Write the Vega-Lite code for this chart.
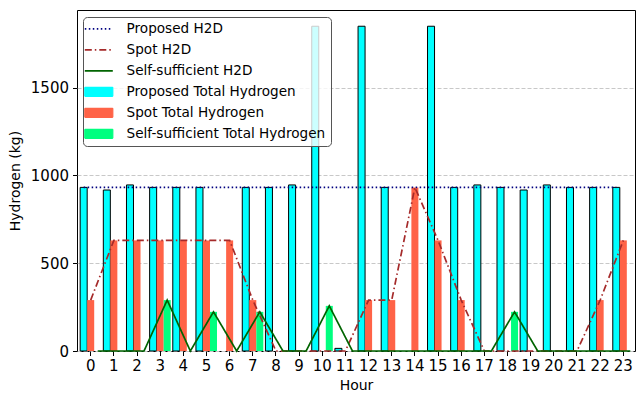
{
  "$schema": "https://vega.github.io/schema/vega-lite/v6.json",
  "width": 558,
  "height": 341,
  "autosize": {"type": "none"},
  "padding": {"left": 77, "top": 10, "right": 1, "bottom": 43},
  "config": {
    "font": "DejaVu Sans",
    "view": {"stroke": "black", "strokeWidth": 1},
    "axis": {"labelFontSize": 15, "titleFontSize": 14, "labelColor": "black", "titleColor": "black", "tickColor": "black", "titleFontWeight": "normal", "domain": false, "tickSize": 4.5}
  },
  "datasets": {
    "labels": [
      {"series": "Proposed", "bar": "Proposed Total Hydrogen", "line": "Proposed H2D"},
      {"series": "Spot", "bar": "Spot Total Hydrogen", "line": "Spot H2D"},
      {"series": "Self-sufficient", "bar": "Self-sufficient Total Hydrogen", "line": "Self-sufficient H2D"}
    ]
  },
  "data": {"values": [
    {"hour": 0, "series": "Proposed", "total": 932, "h2d": 932},
    {"hour": 1, "series": "Proposed", "total": 917, "h2d": 932},
    {"hour": 2, "series": "Proposed", "total": 946, "h2d": 932},
    {"hour": 3, "series": "Proposed", "total": 932, "h2d": 932},
    {"hour": 4, "series": "Proposed", "total": 932, "h2d": 932},
    {"hour": 5, "series": "Proposed", "total": 932, "h2d": 932},
    {"hour": 6, "series": "Proposed", "total": null, "h2d": 932},
    {"hour": 7, "series": "Proposed", "total": 932, "h2d": 932},
    {"hour": 8, "series": "Proposed", "total": 932, "h2d": 932},
    {"hour": 9, "series": "Proposed", "total": 946, "h2d": 932},
    {"hour": 10, "series": "Proposed", "total": 1850, "h2d": 932},
    {"hour": 11, "series": "Proposed", "total": 15, "h2d": 932},
    {"hour": 12, "series": "Proposed", "total": 1850, "h2d": 932},
    {"hour": 13, "series": "Proposed", "total": 932, "h2d": 932},
    {"hour": 14, "series": "Proposed", "total": null, "h2d": 932},
    {"hour": 15, "series": "Proposed", "total": 1850, "h2d": 932},
    {"hour": 16, "series": "Proposed", "total": 932, "h2d": 932},
    {"hour": 17, "series": "Proposed", "total": 946, "h2d": 932},
    {"hour": 18, "series": "Proposed", "total": 932, "h2d": 932},
    {"hour": 19, "series": "Proposed", "total": 917, "h2d": 932},
    {"hour": 20, "series": "Proposed", "total": 946, "h2d": 932},
    {"hour": 21, "series": "Proposed", "total": 932, "h2d": 932},
    {"hour": 22, "series": "Proposed", "total": 932, "h2d": 932},
    {"hour": 23, "series": "Proposed", "total": 932, "h2d": 932},
    {"hour": 0, "series": "Spot", "total": 290, "h2d": 290},
    {"hour": 1, "series": "Spot", "total": 630, "h2d": 630},
    {"hour": 2, "series": "Spot", "total": 630, "h2d": 630},
    {"hour": 3, "series": "Spot", "total": 630, "h2d": 630},
    {"hour": 4, "series": "Spot", "total": 630, "h2d": 630},
    {"hour": 5, "series": "Spot", "total": 630, "h2d": 630},
    {"hour": 6, "series": "Spot", "total": 630, "h2d": 630},
    {"hour": 7, "series": "Spot", "total": 290, "h2d": 290},
    {"hour": 8, "series": "Spot", "total": 0, "h2d": 0},
    {"hour": 9, "series": "Spot", "total": 0, "h2d": 0},
    {"hour": 10, "series": "Spot", "total": 0, "h2d": 0},
    {"hour": 11, "series": "Spot", "total": 0, "h2d": 0},
    {"hour": 12, "series": "Spot", "total": 290, "h2d": 290},
    {"hour": 13, "series": "Spot", "total": 290, "h2d": 290},
    {"hour": 14, "series": "Spot", "total": 932, "h2d": 932},
    {"hour": 15, "series": "Spot", "total": 630, "h2d": 630},
    {"hour": 16, "series": "Spot", "total": 290, "h2d": 290},
    {"hour": 17, "series": "Spot", "total": 0, "h2d": 0},
    {"hour": 18, "series": "Spot", "total": 0, "h2d": 0},
    {"hour": 19, "series": "Spot", "total": 0, "h2d": 0},
    {"hour": 20, "series": "Spot", "total": 0, "h2d": 0},
    {"hour": 21, "series": "Spot", "total": 0, "h2d": 0},
    {"hour": 22, "series": "Spot", "total": 290, "h2d": 290},
    {"hour": 23, "series": "Spot", "total": 630, "h2d": 630},
    {"hour": 0, "series": "Self-sufficient", "total": 0, "h2d": 0},
    {"hour": 1, "series": "Self-sufficient", "total": 0, "h2d": 0},
    {"hour": 2, "series": "Self-sufficient", "total": 0, "h2d": 0},
    {"hour": 3, "series": "Self-sufficient", "total": 290, "h2d": 290},
    {"hour": 4, "series": "Self-sufficient", "total": 0, "h2d": 0},
    {"hour": 5, "series": "Self-sufficient", "total": 223, "h2d": 223},
    {"hour": 6, "series": "Self-sufficient", "total": 0, "h2d": 0},
    {"hour": 7, "series": "Self-sufficient", "total": 223, "h2d": 223},
    {"hour": 8, "series": "Self-sufficient", "total": 0, "h2d": 0},
    {"hour": 9, "series": "Self-sufficient", "total": 0, "h2d": 0},
    {"hour": 10, "series": "Self-sufficient", "total": 257, "h2d": 257},
    {"hour": 11, "series": "Self-sufficient", "total": 0, "h2d": 0},
    {"hour": 12, "series": "Self-sufficient", "total": 0, "h2d": 0},
    {"hour": 13, "series": "Self-sufficient", "total": 0, "h2d": 0},
    {"hour": 14, "series": "Self-sufficient", "total": 0, "h2d": 0},
    {"hour": 15, "series": "Self-sufficient", "total": 0, "h2d": 0},
    {"hour": 16, "series": "Self-sufficient", "total": 0, "h2d": 0},
    {"hour": 17, "series": "Self-sufficient", "total": 0, "h2d": 0},
    {"hour": 18, "series": "Self-sufficient", "total": 223, "h2d": 223},
    {"hour": 19, "series": "Self-sufficient", "total": 0, "h2d": 0},
    {"hour": 20, "series": "Self-sufficient", "total": 0, "h2d": 0},
    {"hour": 21, "series": "Self-sufficient", "total": 0, "h2d": 0},
    {"hour": 22, "series": "Self-sufficient", "total": 0, "h2d": 0},
    {"hour": 23, "series": "Self-sufficient", "total": 0, "h2d": 0}
  ]},
  "transform": [
    {"lookup": "series", "from": {"data": {"name": "labels"}, "key": "series", "fields": ["bar", "line"]}}
  ],
  "encoding": {
    "x": {"field": "hour", "type": "ordinal", "title": "Hour",
      "scale": {"type": "band", "paddingInner": 0, "paddingOuter": 0.048, "align": 0.95},
      "axis": {"labelAngle": 0, "grid": false, "labelPadding": 3, "titlePadding": 5}},
    "xOffset": {"field": "series", "type": "nominal",
      "scale": {"domain": ["Proposed", "Spot", "Self-sufficient"], "paddingInner": 0, "paddingOuter": 0.15}}
  },
  "layer": [
    {
      "mark": {"type": "bar", "strokeWidth": 1},
      "encoding": {
        "y": {"field": "total", "type": "quantitative", "title": "Hydrogen (kg)",
          "scale": {"domain": [0, 1942.5], "nice": false},
          "axis": {"values": [0, 500, 1000, 1500], "format": "d", "grid": true, "gridDash": [4, 2], "gridColor": "#c8c8c8", "labelPadding": 4, "titlePadding": 8}},
        "color": {"field": "bar", "type": "nominal",
          "scale": {"domain": ["Proposed H2D", "Spot H2D", "Self-sufficient H2D", "Proposed Total Hydrogen", "Spot Total Hydrogen", "Self-sufficient Total Hydrogen"],
                    "range": ["#000080", "#A52A2A", "#006400", "#00FFFF", "#FF6347", "#00FF7F"]},
          "legend": {
            "title": null, "orient": "none", "legendX": 6, "legendY": 7,
            "labelFontSize": 13.6, "labelColor": "black", "labelLimit": 400, "symbolSize": 400, "labelOffset": 25,
            "rowPadding": 6, "padding": 5,
            "fillColor": "rgba(255,255,255,0.8)", "strokeColor": "#555", "cornerRadius": 4,
            "encode": {
              "symbols": {"update": {
                "shape": {"signal": "indexof(['Proposed H2D','Spot H2D','Self-sufficient H2D'], datum.value) >= 0 ? 'M-1,0H1.8' : 'M-1,-0.45H1.8V0.45H-1Z'"},
                "fill": {"signal": "indexof(['Proposed H2D','Spot H2D','Self-sufficient H2D'], datum.value) >= 0 ? 'transparent' : scale('color', datum.value)"},
                "stroke": {"signal": "datum.value == 'Proposed Total Hydrogen' ? 'black' : indexof(['Proposed H2D','Spot H2D','Self-sufficient H2D'], datum.value) >= 0 ? scale('color', datum.value) : 'transparent'"},
                "strokeWidth": {"signal": "indexof(['Proposed H2D','Spot H2D','Self-sufficient H2D'], datum.value) >= 0 ? 1.8 : 1.2"},
                "strokeDash": {"signal": "datum.value == 'Proposed H2D' ? [1.5, 2.5] : datum.value == 'Spot H2D' ? [7, 3, 1.5, 3] : [1, 0]"},
                "opacity": {"value": 1}
              }}
            }
          }},
        "stroke": {"condition": {"test": "datum.series == 'Proposed'", "value": "black"}, "value": null}
      }
    },
    {
      "mark": {"type": "line", "strokeWidth": 1.7},
      "encoding": {
        "y": {"field": "h2d", "type": "quantitative"},
        "color": {"field": "line", "type": "nominal",
          "legend": {
            "title": null, "orient": "none", "legendX": 6, "legendY": 7,
            "labelFontSize": 13.6, "labelColor": "black", "labelLimit": 400, "symbolSize": 400, "labelOffset": 25,
            "rowPadding": 6, "padding": 5,
            "fillColor": "rgba(255,255,255,0.8)", "strokeColor": "#555", "cornerRadius": 4,
            "encode": {
              "symbols": {"update": {
                "shape": {"signal": "indexof(['Proposed H2D','Spot H2D','Self-sufficient H2D'], datum.value) >= 0 ? 'M-1,0H1.8' : 'M-1,-0.45H1.8V0.45H-1Z'"},
                "fill": {"signal": "indexof(['Proposed H2D','Spot H2D','Self-sufficient H2D'], datum.value) >= 0 ? 'transparent' : scale('color', datum.value)"},
                "stroke": {"signal": "datum.value == 'Proposed Total Hydrogen' ? 'black' : indexof(['Proposed H2D','Spot H2D','Self-sufficient H2D'], datum.value) >= 0 ? scale('color', datum.value) : 'transparent'"},
                "strokeWidth": {"signal": "indexof(['Proposed H2D','Spot H2D','Self-sufficient H2D'], datum.value) >= 0 ? 1.8 : 1.2"},
                "strokeDash": {"signal": "datum.value == 'Proposed H2D' ? [1.5, 2.5] : datum.value == 'Spot H2D' ? [7, 3, 1.5, 3] : [1, 0]"},
                "opacity": {"value": 1}
              }}
            }
          }},
        "strokeDash": {"field": "line", "type": "nominal", "legend": null,
          "scale": {"domain": ["Proposed H2D", "Spot H2D", "Self-sufficient H2D"], "range": [[1.5, 2.5], [7, 3, 1.5, 3], [1, 0]]}}
      }
    }
  ]
}
